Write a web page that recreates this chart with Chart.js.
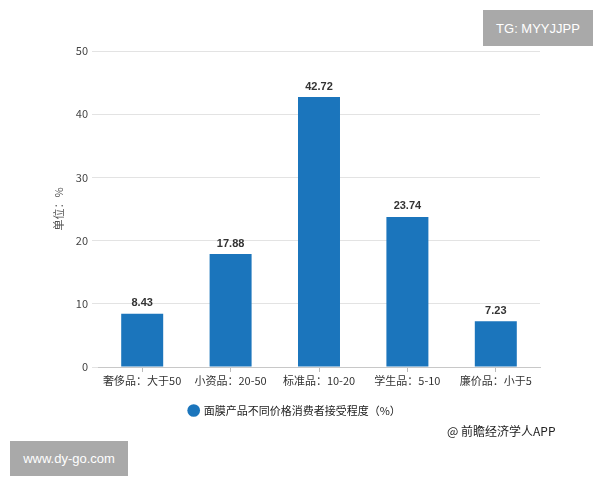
<!DOCTYPE html>
<html>
<head>
<meta charset="utf-8">
<script src="https://cdn.jsdelivr.net/npm/chart.js@4.4.0/dist/chart.umd.min.js"></script>
<style>
  html,body{margin:0;padding:0;background:#fff;width:600px;height:480px;overflow:hidden;font-family:"Noto Sans CJK SC","Noto Sans",sans-serif;}
  #wrap{position:absolute;left:0;top:0;width:576px;height:440px;}
  .tag{position:absolute;background:#a9a9a9;color:#fff;font-family:"Liberation Sans","DejaVu Sans",sans-serif;font-size:13px;display:flex;align-items:center;justify-content:center;}
  #src{position:absolute;left:447px;top:422px;font-size:12px;color:#222;white-space:nowrap;}
</style>
</head>
<body>
<div id="wrap"><canvas id="c"></canvas></div>
<div class="tag" style="left:483px;top:10px;width:110px;height:36px;">TG: MYYJJPP</div>
<div class="tag" style="left:10px;top:441px;width:118px;height:35px;">www.dy-go.com</div>
<div id="src">@ 前瞻经济学人APP</div>
<script>
const categories = ["奢侈品：大于50", "小资品：20-50", "标准品：10-20", "学生品：5-10", "廉价品：小于5"];
const seriesName = "面膜产品不同价格消费者接受程度（%）";
const values = [8.43, 17.88, 42.72, 23.74, 7.23];
const yTicks = [0, 10, 20, 30, 40, 50];
const yTitle = "单位：%";

const FONT = '"Noto Sans CJK SC","Noto Sans",sans-serif';

const valueLabels = {
  id: 'valueLabels',
  afterDatasetsDraw(chart) {
    const ctx = chart.ctx;
    const meta = chart.getDatasetMeta(0);
    ctx.save();
    ctx.font = 'bold 11px "Liberation Sans","DejaVu Sans",sans-serif';
    ctx.fillStyle = '#333';
    ctx.textAlign = 'center';
    ctx.textBaseline = 'bottom';
    meta.data.forEach((bar, i) => {
      ctx.fillText(values[i].toFixed(2), bar.x, bar.y - 5);
    });
    ctx.restore();
  }
};

new Chart(document.getElementById('c'), {
  type: 'bar',
  data: {
    labels: categories,
    datasets: [{
      label: seriesName,
      data: values,
      backgroundColor: '#1b75bc',
      borderWidth: 0,
      categoryPercentage: 1,
      barPercentage: 0.475
    }]
  },
  options: {
    responsive: true,
    maintainAspectRatio: false,
    animation: false,
    layout: { padding: { top: 51, right: 36, left: 50, bottom: 14 } },
    plugins: {
      legend: {
        position: 'bottom',
        labels: {
          usePointStyle: true,
          pointStyle: 'circle',
          boxWidth: 9,
          boxHeight: 9,
          color: '#222',
          font: { family: FONT, size: 11 },
          padding: 10
        }
      },
      tooltip: { enabled: false }
    },
    scales: {
      x: {
        afterFit(scale) { scale.height = 28; },
        grid: { display: true, drawOnChartArea: false, offset: false, tickLength: 5, color: '#bbb' },
        border: { color: '#c8c8c8' },
        ticks: { color: '#333', font: { family: FONT, size: 11 }, padding: 2, maxRotation: 0, autoSkip: false }
      },
      y: {
        min: 0, max: 50,
        afterFit(scale) { scale.width = 48; },
        afterBuildTicks(scale) { scale.ticks = yTicks.map(v => ({ value: v })); },
        grid: { color: '#e3e3e3', drawTicks: true, tickLength: 6 },
        border: { display: false },
        ticks: { color: '#444', font: { family: FONT, size: 11 }, padding: 4 },
        title: { display: true, text: yTitle, color: '#555', font: { family: FONT, size: 11 }, padding: { top: 2, bottom: 4 } }
      }
    }
  },
  plugins: [valueLabels]
});
</script>
</body>
</html>
